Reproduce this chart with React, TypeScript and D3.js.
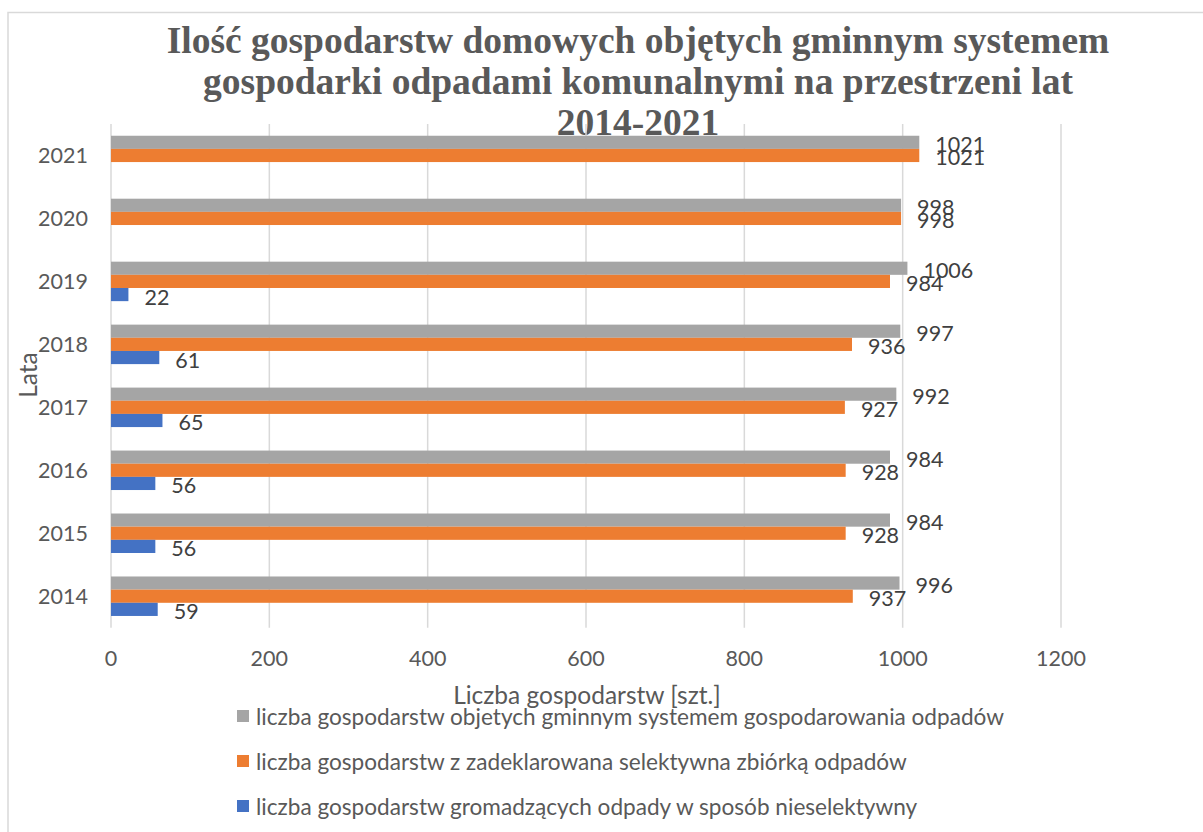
import React, { useEffect } from "react";
import * as d3 from "d3";

const years = ["2014", "2015", "2016", "2017", "2018", "2019", "2020", "2021"];
const objete = [996, 984, 984, 992, 997, 1006, 998, 1021];
const selektywne = [937, 928, 928, 927, 936, 984, 998, 1021];
const nieselektywne: (number | null)[] = [59, 56, 56, 65, 61, 22, null, null];
const xTicks = [0, 200, 400, 600, 800, 1000, 1200];

const seriesNames = [
  "liczba gospodarstw objetych gminnym systemem gospodarowania odpadów",
  "liczba gospodarstw z zadeklarowana selektywna zbiórką odpadów",
  "liczba gospodarstw gromadzących odpady w sposób nieselektywny",
];
const seriesColors = ["#a5a5a5", "#ed7d31", "#4472c4"];
const titleLines = [
  "Ilość gospodarstw domowych objętych gminnym systemem",
  "gospodarki odpadami komunalnymi na przestrzeni lat",
  "2014-2021",
];

const W = 1203;
const H = 832;
const FONT = "Lato, 'Open Sans', sans-serif";

export default function App() {
  useEffect(() => {
    document.body.style.margin = "0";
  }, []);

  const series = [objete, selektywne, nieselektywne];
  const x = d3.scaleLinear().domain([0, 1200]).range([111, 1061]);
  const y0 = d3
    .scaleBand<string>()
    .domain([...years].reverse())
    .range([124, 627.7])
    .paddingInner(0.373)
    .paddingOuter(0.1865);
  const y1 = d3
    .scaleBand<number>()
    .domain([0, 1, 2])
    .range([0, y0.bandwidth()]);

  return (
    <svg width={W} height={H} style={{ display: "block" }}>
      <rect x={0} y={0} width={W} height={H} fill="#ffffff" />
      <rect x={8} y={12.5} width={1300} height={1000} fill="#ffffff" stroke="#d9d9d9" strokeWidth={1.5} />
      {/* title */}
      <g fontFamily="'Liberation Serif', 'Times New Roman', serif" fontWeight="bold" fontSize={37.5} fill="#595959" textAnchor="middle">
        {titleLines.map((t, i) => (
          <text key={i} x={638} y={53 + i * 41}>
            {t}
          </text>
        ))}
      </g>
      {/* gridlines */}
      <g>
        {xTicks.map((t) => (
          <line key={t} x1={x(t)} x2={x(t)} y1={124} y2={627.7} stroke="#d9d9d9" strokeWidth={1.5} />
        ))}
      </g>
      {/* bars */}
      {series.map((vals, si) => (
        <g key={si} fill={seriesColors[si]}>
          {years.map((yr, i) => {
            const v = vals[i];
            if (v == null) return null;
            const yy = (y0(yr) as number) + (y1(si) as number);
            return <rect key={yr} x={x(0)} y={yy} width={x(v) - x(0)} height={y1.bandwidth()} />;
          })}
        </g>
      ))}
      {/* data labels */}
      {series.map((vals, si) => (
        <g key={"l" + si} fontFamily={FONT} fontSize={21.5} fill="#404040">
          {years.map((yr, i) => {
            const v = vals[i];
            if (v == null) return null;
            const yy = (y0(yr) as number) + (y1(si) as number) + y1.bandwidth() / 2 + 2;
            return (
              <text key={yr} x={x(v) + 16} y={yy} dominantBaseline="central">
                {v}
              </text>
            );
          })}
        </g>
      ))}
      {/* category labels */}
      <g fontFamily={FONT} fontSize={21.5} fill="#595959" textAnchor="end">
        {years.map((yr) => (
          <text key={yr} x={88} y={(y0(yr) as number) + y0.bandwidth() / 2} dominantBaseline="central">
            {yr}
          </text>
        ))}
      </g>
      {/* x tick labels */}
      <g fontFamily={FONT} fontSize={21.5} fill="#595959" textAnchor="middle">
        {xTicks.map((t) => (
          <text key={t} x={x(t)} y={666}>
            {t}
          </text>
        ))}
      </g>
      {/* axis titles */}
      <text x={587} y={704} fontFamily={FONT} fontSize={24.5} fill="#595959" textAnchor="middle">
        Liczba gospodarstw [szt.]
      </text>
      <text
        transform="translate(37,375) rotate(-90)"
        fontFamily={FONT}
        fontSize={24.5}
        fill="#595959"
        textAnchor="middle"
      >
        Lata
      </text>
      {/* legend */}
      <g fontFamily={FONT} fontSize={22.6} fill="#595959">
        {seriesNames.map((n, i) => (
          <g key={i} transform={`translate(237,${716 + i * 45})`}>
            <rect x={0} y={-6} width={12} height={12} fill={seriesColors[i]} />
            <text x={19} y={0} dominantBaseline="central">
              {n}
            </text>
          </g>
        ))}
      </g>
    </svg>
  );
}
